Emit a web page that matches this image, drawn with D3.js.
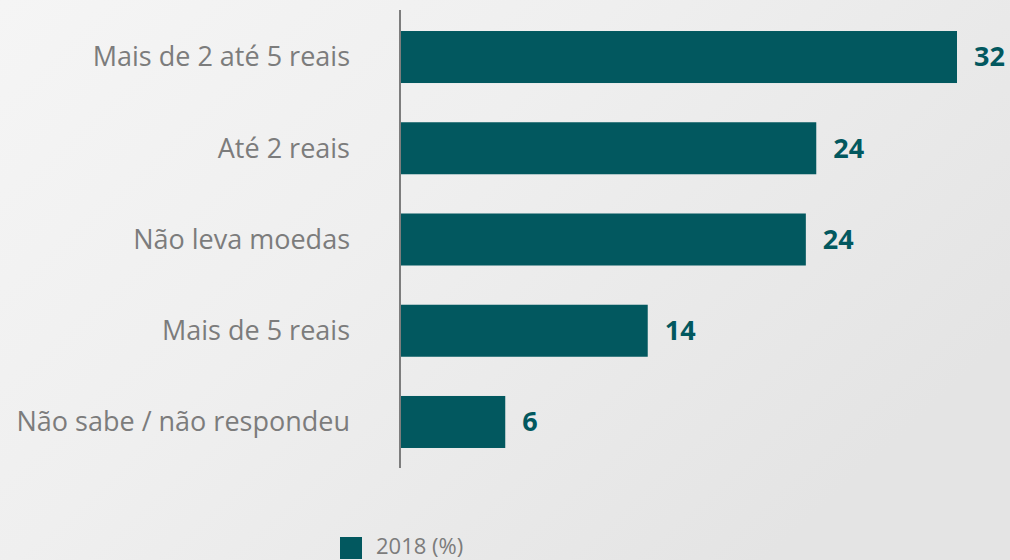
<!DOCTYPE html>
<html>
<head>
<meta charset="utf-8">
<script src="https://cdn.jsdelivr.net/npm/d3@7"></script>
<style>
  body { margin: 0; }
  svg { display: block; font-family: "Open Sans", "Noto Sans", sans-serif; }
</style>
</head>
<body>
<div class="chart"></div>
<script>
// values (labels are the rounded figures printed on the chart)
const categories = ["Mais de 2 até 5 reais", "Até 2 reais", "Não leva moedas", "Mais de 5 reais", "Não sabe / não respondeu"];
const values = [32, 23.9, 23.3, 14.2, 6];
const valueLabels = ["32", "24", "24", "14", "6"];
const seriesName = "2018 (%)";

const width = 1010, height = 560;
const barColor = "#02585f";
const textGray = "#7c7c7c";

let svg = d3.select(".chart")
    .append("svg")
    .attr("width", width)
    .attr("height", height);

// faded photo-ish background
let defs = svg.append("defs");
let grad = defs.append("linearGradient")
    .attr("id", "bg")
    .attr("x1", "0").attr("y1", "0")
    .attr("x2", "1").attr("y2", "0.6");
grad.append("stop").attr("offset", "0%").attr("stop-color", "#f5f5f5");
grad.append("stop").attr("offset", "45%").attr("stop-color", "#efefef");
grad.append("stop").attr("offset", "100%").attr("stop-color", "#e4e4e4");
svg.append("rect")
    .attr("width", width)
    .attr("height", height)
    .attr("fill", "url(#bg)");

let data = categories.map((c, i) => ({cat: c, value: values[i], label: valueLabels[i]}));

let xScale = d3.scaleLinear()
    .domain([0, 32])
    .range([401, 957]);

let yScale = d3.scaleBand()
    .domain(categories)
    .range([11.4, 467.6])
    .paddingInner(0.43)
    .paddingOuter(0.215);

// bars
svg.selectAll("rect.bar")
    .data(data)
    .enter()
    .append("rect")
    .attr("class", "bar")
    .attr("x", xScale(0))
    .attr("y", d => yScale(d.cat))
    .attr("width", d => xScale(d.value) - xScale(0))
    .attr("height", yScale.bandwidth())
    .attr("fill", barColor);

// vertical axis line
svg.append("line")
    .attr("x1", 400).attr("x2", 400)
    .attr("y1", 10).attr("y2", 468)
    .attr("stroke", "#7d7d7d")
    .attr("stroke-width", 2);

// category labels
svg.selectAll("text.cat")
    .data(data)
    .enter()
    .append("text")
    .attr("class", "cat")
    .attr("x", 350)
    .attr("y", d => yScale(d.cat) + yScale.bandwidth() / 2)
    .attr("dy", "0.35em")
    .attr("text-anchor", "end")
    .attr("fill", textGray)
    .style("font-size", "27px")
    .text(d => d.cat);

// value labels
svg.selectAll("text.val")
    .data(data)
    .enter()
    .append("text")
    .attr("class", "val")
    .attr("x", d => xScale(d.value) + 17)
    .attr("y", d => yScale(d.cat) + yScale.bandwidth() / 2)
    .attr("dy", "0.35em")
    .attr("fill", barColor)
    .style("font-size", "27px")
    .style("font-weight", "bold")
    .text(d => d.label);

// legend
let legend = svg.append("g");
legend.append("rect")
    .attr("x", 340).attr("y", 537)
    .attr("width", 22).attr("height", 22)
    .attr("fill", barColor);
legend.append("text")
    .attr("x", 376).attr("y", 554)
    .attr("fill", textGray)
    .style("font-size", "22px")
    .text(seriesName);
</script>
</body>
</html>
